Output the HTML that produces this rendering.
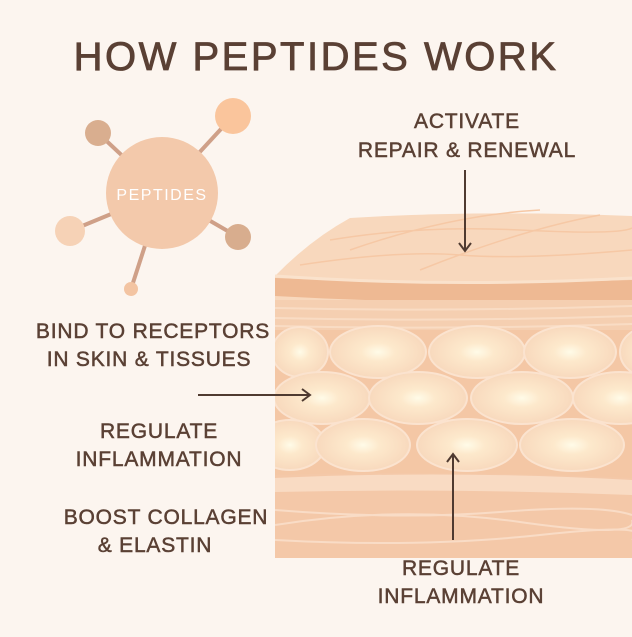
<!DOCTYPE html>
<html><head><meta charset="utf-8"><style>
html,body{margin:0;padding:0;background:#fcf5ef;}
svg{display:block;}
text{font-family:"Liberation Sans",sans-serif;fill:#5a4034;stroke:#5a4034;stroke-width:0.5;}
</style></head><body>
<svg width="632" height="637" viewBox="0 0 632 637" xmlns="http://www.w3.org/2000/svg">
<defs>
<radialGradient id="glow" cx="50%" cy="50%" r="50%">
<stop offset="0" stop-color="#fffbe8"/><stop offset="0.35" stop-color="#fde9cc"/><stop offset="1" stop-color="#f8d9bd"/>
</radialGradient>
<clipPath id="blk"><rect x="275" y="200" width="357" height="358"/></clipPath>
</defs>
<rect width="632" height="637" fill="#fcf5ef"/>
<text x="316" y="70" text-anchor="middle" font-size="40" letter-spacing="2.5" style="stroke-width:0.8">HOW PEPTIDES WORK</text>

<g stroke="#cfa088" stroke-width="4">
<line x1="162" y1="193" x2="98" y2="133"/><line x1="162" y1="193" x2="233" y2="116"/>
<line x1="162" y1="193" x2="70" y2="231"/><line x1="162" y1="193" x2="238" y2="237"/>
<line x1="162" y1="193" x2="131" y2="289"/>
</g>
<circle cx="162" cy="193" r="56" fill="#f3c9ab"/>
<circle cx="98" cy="133" r="13" fill="#d9ae8f"/>
<circle cx="233" cy="116" r="18" fill="#fac59c"/>
<circle cx="70" cy="231" r="15" fill="#f6d2b6"/>
<circle cx="238" cy="237" r="13" fill="#d8ad8e"/>
<circle cx="131" cy="289" r="7" fill="#f3c4a2"/>
<text x="162" y="200" text-anchor="middle" font-size="16" letter-spacing="1.5" style="fill:#fff;stroke:none">PEPTIDES</text>

<g clip-path="url(#blk)">
<path d="M275 276 Q310 240 350 218 Q480 210 632 216 L632 558 L275 558 Z" fill="#f8d8bd"/>
<path d="M330 240 Q420 225 520 230 T632 228 M300 265 Q400 250 460 255 T632 250 M350 250 Q450 215 540 210 M420 270 Q520 230 600 215" stroke="#f6c8a5" stroke-width="1.5" fill="none"/>
<path d="M275 278 Q450 286 632 280 L632 300 Q450 306 275 296 Z" fill="#eeb993"/>
<path d="M275 276 Q450 288 632 278" stroke="#fae2cc" stroke-width="3" fill="none"/>
<rect x="275" y="300" width="357" height="30" fill="#f5cfb1"/>
<path d="M275 308 Q450 312 632 306 M275 318 Q450 322 632 316 M275 326 Q450 330 632 324" stroke="#f9dcc4" stroke-width="2" fill="none"/>
<rect x="275" y="330" width="357" height="150" fill="#f4c7a5"/>
<g fill="url(#glow)" stroke="#fbe3cf" stroke-width="2">
<ellipse cx="300" cy="352" rx="28" ry="25"/>
<ellipse cx="378" cy="352" rx="48" ry="26"/>
<ellipse cx="477" cy="352" rx="48" ry="26"/>
<ellipse cx="570" cy="352" rx="46" ry="26"/>
<ellipse cx="652" cy="352" rx="32" ry="26"/>
<ellipse cx="322" cy="398" rx="48" ry="26"/>
<ellipse cx="418" cy="398" rx="49" ry="26"/>
<ellipse cx="522" cy="398" rx="51" ry="26"/>
<ellipse cx="620" cy="398" rx="47" ry="26"/>
<ellipse cx="290" cy="445" rx="35" ry="25"/>
<ellipse cx="363" cy="445" rx="47" ry="26"/>
<ellipse cx="467" cy="445" rx="50" ry="26"/>
<ellipse cx="572" cy="445" rx="52" ry="26"/>
</g>
<path d="M275 475 Q450 470 632 478 L632 558 L275 558 Z" fill="#f4c8a8"/>
<path d="M275 478 Q450 470 632 480 L632 495 Q450 488 275 492 Z" fill="#f9dbc3"/>
<path d="M275 510 Q400 520 500 512 T632 515 M275 525 Q400 505 520 522 T632 520 M275 540 Q420 548 540 535 T632 540" stroke="#f9dcc6" stroke-width="2" fill="none"/>
</g>

<g stroke="#4f3a30" stroke-width="2" fill="none">
<line x1="465" y1="170" x2="465" y2="251"/><path d="M459 243 L465 251 L471 243"/>
<line x1="198" y1="395" x2="309" y2="395"/><path d="M302 389 L310 395 L302 401"/>
<line x1="453" y1="540" x2="453" y2="454"/><path d="M447 462 L453 454 L459 462"/>
</g>

<g font-size="21" letter-spacing="0.8">
<text x="467" y="128" text-anchor="middle">ACTIVATE</text>
<text x="467" y="157" text-anchor="middle">REPAIR &amp; RENEWAL</text>
<text x="153" y="338" text-anchor="middle">BIND TO RECEPTORS</text>
<text x="149" y="366" text-anchor="middle">IN SKIN &amp; TISSUES</text>
<text x="159" y="438" text-anchor="middle">REGULATE</text>
<text x="159" y="466" text-anchor="middle">INFLAMMATION</text>
<text x="166" y="524" text-anchor="middle">BOOST COLLAGEN</text>
<text x="155" y="552" text-anchor="middle">&amp; ELASTIN</text>
<text x="461" y="575" text-anchor="middle">REGULATE</text>
<text x="461" y="603" text-anchor="middle">INFLAMMATION</text>
</g>
</svg>
</body></html>
